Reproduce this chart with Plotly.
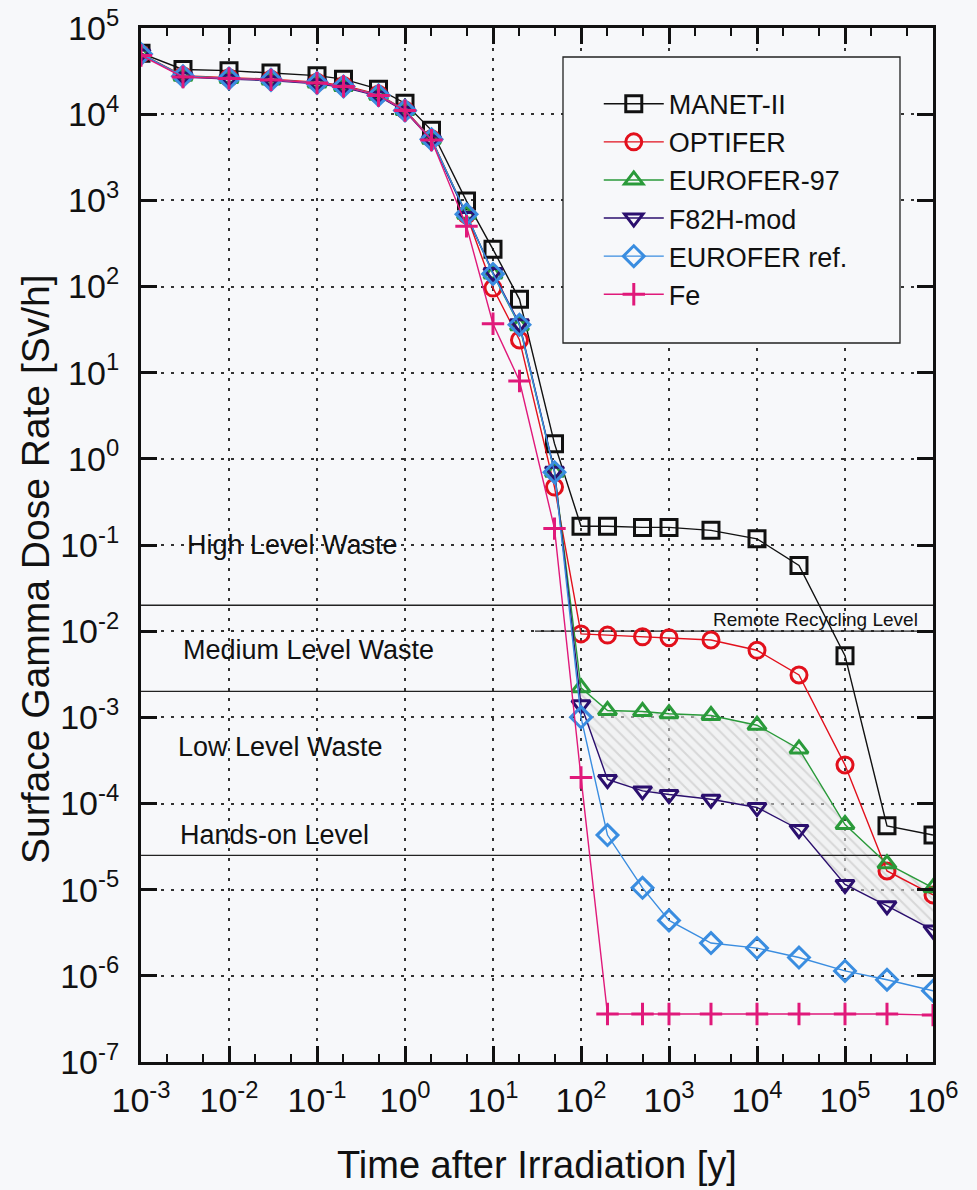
import plotly.graph_objects as go
import numpy as np

# ---------------- data ----------------
time_y = [0.001, 0.003, 0.01, 0.03, 0.1, 0.2, 0.5, 1, 2, 5, 10, 20, 50,
          100, 200, 500, 1000, 3000, 1e4, 3e4, 1e5, 3e5, 1e6]

manet = [5.1e4, 3.3e4, 3.2e4, 3.0e4, 2.8e4, 2.55e4, 1.95e4, 1.34e4, 6.5e3, 980, 270, 71, 1.5,
         0.165, 0.165, 0.16, 0.16, 0.148, 0.118, 0.058, 5.2e-3, 5.5e-5, 4.3e-5]
optifer = [5.0e4, 2.8e4, 2.65e4, 2.55e4, 2.35e4, 2.15e4, 1.7e4, 1.12e4, 5.2e3, 680, 96, 24, 0.47,
           9.3e-3, 9.0e-3, 8.6e-3, 8.4e-3, 7.9e-3, 6.0e-3, 3.1e-3, 2.8e-4, 1.65e-5, 8.7e-6]
eurofer97 = [5.0e4, 2.75e4, 2.6e4, 2.5e4, 2.3e4, 2.1e4, 1.66e4, 1.1e4, 5.1e3, 690, 140, 35, 0.7,
             2.2e-3, 1.2e-3, 1.17e-3, 1.1e-3, 1.05e-3, 8.1e-4, 4.3e-4, 5.7e-5, 2.0e-5, 1.05e-5]
f82h = [5.0e4, 2.7e4, 2.55e4, 2.45e4, 2.25e4, 2.05e4, 1.62e4, 1.08e4, 5.0e3, 650, 145, 37, 0.72,
        1.4e-3, 1.9e-4, 1.4e-4, 1.27e-4, 1.12e-4, 9.0e-5, 5.0e-5, 1.15e-5, 6.5e-6, 3.4e-6]
eurofer_ref = [5.0e4, 2.75e4, 2.6e4, 2.5e4, 2.3e4, 2.1e4, 1.66e4, 1.1e4, 5.1e3, 690, 140, 36, 0.7,
               1.0e-3, 4.3e-5, 1.05e-5, 4.4e-6, 2.4e-6, 2.1e-6, 1.63e-6, 1.14e-6, 9.0e-7, 6.7e-7]
fe = [4.8e4, 2.7e4, 2.6e4, 2.5e4, 2.3e4, 2.1e4, 1.65e4, 1.1e4, 5.0e3, 500, 37, 8.0, 0.155,
      2.0e-4, 3.6e-7, 3.6e-7, 3.6e-7, 3.6e-7, 3.6e-7, 3.6e-7, 3.6e-7, 3.6e-7, 3.5e-7]

series_names = ["MANET-II", "OPTIFER", "EUROFER-97", "F82H-mod", "EUROFER ref.", "Fe"]
series_values = [manet, optifer, eurofer97, f82h, eurofer_ref, fe]
series_colors = ["#111111", "#e2101c", "#2a9a3a", "#2b0f6e", "#3a8de0", "#e0197a"]
series_symbols = ["square-open", "circle-open", "triangle-up-open", "triangle-down-open",
                  "diamond-open", "cross-thin-open"]

# tick labels
x_tick_vals = [1e-3, 1e-2, 1e-1, 1e0, 1e1, 1e2, 1e3, 1e4, 1e5, 1e6]
x_tick_text = ["10<sup>-3</sup>", "10<sup>-2</sup>", "10<sup>-1</sup>", "10<sup>0</sup>",
               "10<sup>1</sup>", "10<sup>2</sup>", "10<sup>3</sup>", "10<sup>4</sup>",
               "10<sup>5</sup>", "10<sup>6</sup>"]
y_tick_vals = [1e5, 1e4, 1e3, 1e2, 1e1, 1e0, 1e-1, 1e-2, 1e-3, 1e-4, 1e-5, 1e-6, 1e-7]
y_tick_text = ["10<sup>5</sup>", "10<sup>4</sup>", "10<sup>3</sup>", "10<sup>2</sup>",
               "10<sup>1</sup>", "10<sup>0</sup>", "10<sup>-1</sup>", "10<sup>-2</sup>",
               "10<sup>-3</sup>", "10<sup>-4</sup>", "10<sup>-5</sup>", "10<sup>-6</sup>",
               "10<sup>-7</sup>"]

# waste-class level lines
level_values = [2e-2, 2e-3, 2.5e-5]
remote_recycling = 1e-2
remote_start_t = 30

level_labels = ["High Level Waste", "Medium Level Waste", "Low Level Waste", "Hands-on Level"]
level_label_t = [10**-2.5, 10**-2.545, 10**-2.60, 10**-2.58]
level_label_v = [10**-1.0, 10**-2.22, 10**-3.35, 10**-4.37]

hatch_start_idx = 13  # t = 100 y

FONT = "Liberation Sans, Arial, Helvetica, sans-serif"
BG = "#f7f8fa"

fig = go.Figure()

# hatched band between EUROFER-97 and F82H-mod
fig.add_trace(go.Scatter(x=time_y[hatch_start_idx:], y=f82h[hatch_start_idx:], mode="lines",
                         line=dict(width=0, color="rgba(0,0,0,0)"), showlegend=False,
                         hoverinfo="skip"))
fig.add_trace(go.Scatter(x=time_y[hatch_start_idx:], y=eurofer97[hatch_start_idx:], mode="lines",
                         line=dict(width=0, color="rgba(0,0,0,0)"), fill="tonexty",
                         fillcolor="rgba(232,232,232,0.6)",
                         fillpattern=dict(shape="\\", fgcolor="#bdbdbd", bgcolor="rgba(236,236,236,0.5)",
                                          size=8, solidity=0.25),
                         showlegend=False, hoverinfo="skip"))

# level lines
for lv in level_values:
    fig.add_trace(go.Scatter(x=[time_y[0], time_y[-1]], y=[lv, lv], mode="lines",
                             line=dict(color="#222222", width=1.3), showlegend=False,
                             hoverinfo="skip"))
fig.add_trace(go.Scatter(x=[remote_start_t, time_y[-1]], y=[remote_recycling, remote_recycling],
                         mode="lines", line=dict(color="#222222", width=1.3), showlegend=False,
                         hoverinfo="skip"))

# data series
for i, (name, vals, col, sym) in enumerate(zip(series_names, series_values, series_colors, series_symbols)):
    fig.add_trace(go.Scatter(
        x=time_y, y=vals, name=name, mode="lines+markers", legendgroup=name,
        line=dict(color=col, width=1.4),
        marker=dict(symbol=sym, size=16, color=col, line=dict(color=col, width=3)),
    ))

annotations = []
for txt, tx, vy in zip(level_labels, level_label_t, level_label_v):
    annotations.append(dict(x=np.log10(tx), y=np.log10(vy), xref="x", yref="y", text=txt,
                            showarrow=False, xanchor="left", yanchor="middle",
                            font=dict(family=FONT, size=27, color="#111")))
annotations.append(dict(x=5.85, y=-1.86, xref="x", yref="y", text="Remote Recycling Level",
                        showarrow=False, xanchor="right", yanchor="middle",
                        font=dict(family=FONT, size=19, color="#111")))
annotations.append(dict(x=-0.1326, y=0.4768, xref="paper", yref="paper",
                        text="Surface Gamma Dose Rate [Sv/h]", textangle=-90, showarrow=False,
                        xanchor="center", yanchor="middle",
                        font=dict(family=FONT, size=39, color="#111")))
annotations.append(dict(x=0.5, y=-0.0996, xref="paper", yref="paper",
                        text="Time after Irradiation [y]", showarrow=False,
                        xanchor="center", yanchor="middle",
                        font=dict(family=FONT, size=38, color="#111")))

axis_common = dict(
    type="log", showline=True, linewidth=3, linecolor="#111", mirror="allticks",
    ticks="inside", ticklen=16, tickwidth=2.5, tickcolor="#111",
    showgrid=True, gridcolor="#333", gridwidth=1.5, griddash="3px,7px",
    zeroline=False, tickmode="array", automargin=False, tickangle=0,
    tickfont=dict(family=FONT, size=34, color="#111"),
    minor=dict(ticks="inside", ticklen=8, tickwidth=2, tickcolor="#111", showgrid=False),
)

fig.update_layout(
    width=977, height=1190,
    margin=dict(l=141, r=44, t=28, b=128),
    paper_bgcolor=BG, plot_bgcolor=BG,
    xaxis=dict(range=[-3, 6], tickvals=x_tick_vals, ticktext=x_tick_text,
               ticklabelstandoff=6, **axis_common),
    yaxis=dict(range=[-7, 5], tickvals=y_tick_vals, ticktext=y_tick_text,
               ticklabelstandoff=12, **axis_common),
    annotations=annotations,
    showlegend=True,
    legend=dict(x=0.578, y=0.950, xanchor="left", yanchor="top",
                bgcolor="rgba(0,0,0,0)", borderwidth=0,
                font=dict(family=FONT, size=27, color="#111"),
                tracegroupgap=0, itemwidth=60),
    shapes=[dict(type="rect", xref="paper", yref="paper",
                 x0=(563 - 141) / 792, x1=(900 - 141) / 792,
                 y0=(1062 - 343) / 1034, y1=(1062 - 57) / 1034,
                 line=dict(color="#222", width=1.3), fillcolor=BG, layer="above")],
)

# remove the page's default body margin so the figure fills the window exactly
fig.write_html("out.html", config={"displayModeBar": False},
               post_script="document.body.style.margin='0';document.body.style.background='%s';" % BG)
